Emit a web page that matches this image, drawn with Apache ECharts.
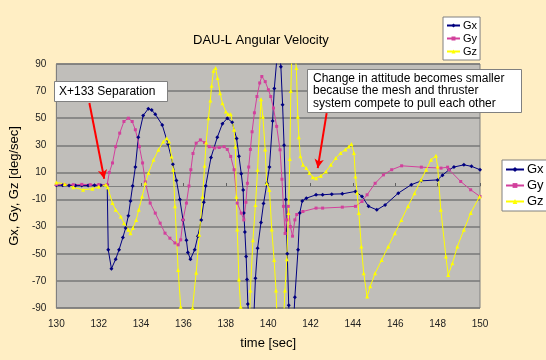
<!DOCTYPE html>
<html><head><meta charset="utf-8">
<script src="https://cdn.jsdelivr.net/npm/echarts@6/dist/echarts.min.js"></script>
<style>html,body{margin:0;padding:0;background:#FFEEC4;}#c{width:546px;height:360px;}</style>
</head><body><div id="c"></div>
<script>
const xTicks = [130,132,134,136,138,140,142,144,146,148,150];
const yTicks = [-90,-70,-50,-30,-10,10,30,50,70,90];
const gxData = [[130.0,0.5],[130.3,0.5],[130.6,0.3],[130.9,0.3],[131.2,0.3],[131.5,0.3],[131.8,0.5],[132.1,0.5],[132.4,1],
[132.45,-47],[132.6,-61],[132.8,-54],[132.96,-47],[133.14,-38],[133.27,-31],[133.4,-22],[133.5,-11],[133.6,0],[133.73,14],[133.87,36],[134.1,52],[134.34,57],[134.5,56],[134.67,53],[135.0,45],[135.27,31],[135.5,16],[135.67,4],[135.83,-10],[135.98,-25],[136.14,-40],[136.21,-49],[136.33,-54],[136.53,-47],[136.68,-37],[136.84,-25],[136.96,-12],[137.05,0],[137.3,21],[137.6,36],[137.84,46],[138.07,50],[138.3,47],[138.51,35],[138.62,22],[138.73,9],[138.82,-3],[138.85,-20],[138.9,-34],[138.96,-52],[139.0,-69],[139.04,-87],[139.15,-110],[139.3,-105],[139.4,-68],[139.5,-46],[139.66,-27],[139.78,-13],[139.94,2],[140.06,14],[140.21,48],[140.29,72],[140.4,92],[140.5,105],[140.6,88],[140.68,60],[140.75,30],[140.83,-10],[140.9,-50],[140.97,-88],[141.05,-110],[141.2,-100],[141.26,-82],[141.41,-47],[141.49,-20],[141.61,-11],[141.8,-9],[142.26,-6.5],[142.57,-6.5],[143.0,-6],[143.5,-5.8],[144.12,-4],[144.43,-7.7],[144.74,-15],[145.13,-17.6],[145.52,-14],[146.14,-5.3],[146.76,1],[147.23,3.8],[148.0,4.5],[148.23,8],[148.54,12],[148.77,14],[149.24,15.6],[149.6,14.5],[150,12]];
const gyData = [[130,1],[130.4,1],[130.8,1],[131.2,1.2],[131.6,1],[132.0,1],[132.4,1],[132.5,10],[132.65,17],[132.8,29],[132.99,39],[133.19,47.6],[133.4,50],[133.58,47.6],[133.73,41.5],[133.92,29],[134.07,17],[134.2,3],[134.43,-12.6],[134.67,-20],[134.9,-27.4],[135.13,-34.8],[135.36,-38.5],[135.6,-42],[135.75,-43.4],[135.87,-39.7],[135.98,-25],[136.14,-12.6],[136.26,0],[136.35,12],[136.45,24],[136.6,31.6],[136.8,34],[137.0,32],[137.22,29],[137.46,28],[137.69,28.4],[137.92,29],[138.07,27],[138.23,21.8],[138.39,12],[138.54,-12.6],[138.73,-20],[138.85,-25],[138.95,-12],[139.02,2],[139.08,14],[139.16,27],[139.24,40],[139.35,54],[139.47,66],[139.6,76],[139.7,80.8],[139.86,77],[140.01,71],[140.12,66],[140.25,57.5],[140.4,44],[140.56,26.7],[140.65,5],[140.72,-15],[140.8,-35],[140.88,-25],[140.95,-15],[141.05,-30],[141.15,-37],[141.26,-25],[141.35,-21],[141.64,-18.8],[142.26,-16.3],[142.57,-16.3],[143.5,-15.6],[144.12,-15],[144.43,-11.4],[144.67,-6.5],[145.05,2],[145.44,8.2],[145.83,12],[146.3,14.9],[147.23,13.9],[148.16,13.2],[148.47,13.9],[148.54,12],[149.09,3.3],[149.56,-2.8],[150,-7.7]];
const gzData = [[130,2.6],[130.4,1.5],[130.8,-1],[131.26,-2.8],[131.7,-2],[132.0,-0.5],[132.34,0.9],[132.42,-1],[132.65,-12.6],[132.8,-17.6],[133.04,-22.5],[133.19,-27.4],[133.4,-32.3],[133.5,-34.8],[133.61,-31],[133.77,-25],[133.89,-17.6],[134.05,-7.7],[134.2,2.1],[134.35,9.5],[134.59,19.3],[134.82,26.7],[135.05,32.8],[135.21,35.3],[135.32,32.8],[135.44,21.8],[135.52,12],[135.6,-15],[135.75,-62],[135.87,-89],[135.95,-110],[136.35,-110],[136.43,-90],[136.6,-64],[136.75,-36],[136.9,-8],[137.0,15],[137.07,32],[137.18,50],[137.27,63],[137.33,74],[137.42,85],[137.52,87],[137.61,79.6],[137.73,68.5],[137.84,61],[138.0,55],[138.1,53],[138.23,53],[138.39,41.5],[138.45,29],[138.5,-8],[138.54,-32],[138.62,-69],[138.7,-89],[138.8,-110],[139.1,-110],[139.16,-77],[139.28,-40],[139.4,-14],[139.5,12],[139.66,64],[139.75,51],[139.86,27],[139.93,2],[140.06,-3],[140.17,-32],[140.28,-54.5],[140.37,-77],[140.45,-110],[140.7,-110],[140.79,-77],[140.88,-54],[140.96,-20],[141.02,20],[141.07,70],[141.12,100],[141.25,100],[141.33,87],[141.4,51],[141.45,36],[141.52,22],[141.64,15.6],[141.8,13.2],[141.95,9.5],[142.1,6.5],[142.26,5.8],[142.49,7.5],[142.73,10.7],[142.96,15.6],[143.19,20.6],[143.42,24.3],[143.65,27],[143.81,29.2],[143.93,31],[144.05,24.3],[144.12,7],[144.2,-5],[144.28,-20],[144.4,-44.7],[144.51,-64.3],[144.67,-81.6],[144.82,-74],[145.05,-64.3],[145.36,-54.5],[145.67,-44.7],[145.98,-34.8],[146.29,-25],[146.6,-15],[146.91,-5.3],[147.22,4.6],[147.46,12],[147.69,19.3],[147.92,22.3],[148.0,14.4],[148.15,-17.6],[148.39,-52],[148.5,-65.6],[148.7,-57],[148.93,-44.7],[149.24,-32.3],[149.56,-20],[149.98,-7.7]];
const arrows = [[[131.56,61.2],[132.26,5.3]],[[142.76,53.8],[142.34,13.2]]];

const FONT = 'Liberation Sans, Arial, sans-serif';
const chart = echarts.init(document.getElementById('c'));
const mkSeries = (name, data, color, symbol, size, extra) => Object.assign({
  name, type:'line', data, symbol, symbolSize:size, showSymbol:true,
  itemStyle:{color}, lineStyle:{color, width:1}, animation:false, clip:true, z:3
}, extra||{});
const legendBase = {
  orient:'vertical', backgroundColor:'#fff', borderColor:'#808080', borderWidth:1,
  data:['Gx','Gy','Gz']
};
chart.setOption({
  backgroundColor:'#FFEEC4',
  animation:false,
  title:{text:'DAU-L Angular Velocity', left:188, top:29, textStyle:{fontFamily:FONT, fontSize:13, fontWeight:'normal', color:'#000'}},
  legend:[
    Object.assign({}, legendBase, {left:443, top:17, padding:[3,3,3,3], itemGap:2, itemWidth:13, itemHeight:5, textStyle:{fontFamily:FONT, fontSize:11, color:'#000', padding:[0,0,0,-2]}}),
    Object.assign({}, legendBase, {left:502, top:160, padding:[3,3,3,3], itemGap:3, itemWidth:18, itemHeight:6, textStyle:{fontFamily:FONT, fontSize:13, color:'#000', padding:[0,0,0,-2]}})
  ],
  grid:{left:50, right:66, top:64, bottom:52, show:true, backgroundColor:'#C0BEBA', borderColor:'#808080', borderWidth:1},
  xAxis:{type:'value', min:130, max:150, interval:2,
    name:'time [sec]', nameLocation:'middle', nameGap:29, nameTextStyle:{fontFamily:FONT, fontSize:13, color:'#000'},
    axisLine:{show:true, lineStyle:{color:'#808080'}}, axisTick:{show:true, inside:true, length:3, lineStyle:{color:'#606060'}},
    axisLabel:{fontFamily:FONT, fontSize:10, color:'#222', margin:11}, splitLine:{show:false}},
  yAxis:{type:'value', min:-90, max:90, interval:20,
    name:'Gx, Gy, Gz [deg/sec]', nameLocation:'middle', nameGap:28, nameRotate:90, nameTextStyle:{fontFamily:FONT, fontSize:13, color:'#000'},
    axisLine:{show:true, lineStyle:{color:'#808080'}}, axisTick:{show:false},
    axisLabel:{fontFamily:FONT, fontSize:10, color:'#222', margin:10},
    splitLine:{show:true, lineStyle:{color:'#777777', width:1.5}}},
  series:[
    mkSeries('Gx', gxData, '#000080', 'diamond', 4, {
      markLine:{silent:true, symbol:['none','arrow'], symbolSize:[7,9], label:{show:false},
        lineStyle:{color:'#FF0000', width:2, type:'solid'},
        data: arrows.map(a => [{coord:a[0]},{coord:a[1]}])}
    }),
    mkSeries('Gy', gyData, '#D2409C', 'rect', 3),
    mkSeries('Gz', gzData, '#FFFF00', 'triangle', 4)
  ],
  graphic:[
    {type:'rect', z:100, shape:{x:54.5,y:81.5,width:113,height:20}, style:{fill:'#fff', stroke:'#808080', lineWidth:1}},
    {type:'text', z:101, x:59, y:92, style:{text:'X+133 Separation', font:'12px '+FONT, fill:'#000', verticalAlign:'middle'}},
    {type:'rect', z:100, shape:{x:307.5,y:69.5,width:214,height:43}, style:{fill:'#fff', stroke:'#808080', lineWidth:1}},
    {type:'text', z:101, x:313, y:72, style:{text:'Change in attitude becomes smaller\nbecause the mesh and thruster\nsystem compete to pull each other', font:'12px '+FONT, lineHeight:12.6, fill:'#000', verticalAlign:'top'}}
  ]
});
</script></body></html>
